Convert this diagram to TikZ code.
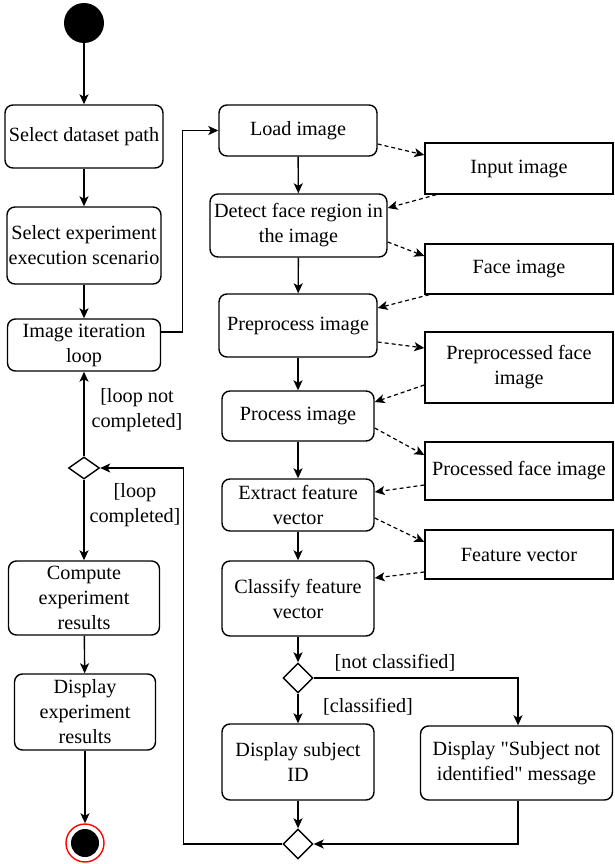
\documentclass[tikz,border=0pt]{standalone}
\usepackage{fontspec}
\setmainfont{Liberation Serif}[Ligatures=TeXOff]
\usetikzlibrary{arrows.meta,shapes.geometric,calc}
\begin{document}
\begin{tikzpicture}[x=1pt,y=-1pt,
  every node/.style={font=\fontsize{20.2}{25}\selectfont},
  act/.style={draw,line width=1.4pt,rounded corners=8pt,inner sep=0pt,align=center,fill=white},
  obj/.style={draw,line width=1.4pt,inner sep=0pt,align=center,fill=white},
  dec/.style={draw,line width=1.4pt,diamond,inner sep=0pt,minimum width=30pt,minimum height=30pt,fill=white},
  arr/.style={line width=1.4pt,-{Stealth[length=10pt,width=9pt,inset=2.5pt]}},
  darr/.style={line width=1.2pt,dash pattern=on 4pt off 3pt,-{Stealth[length=10pt,width=9pt,inset=2.5pt]}},
  lbl/.style={inner sep=0pt,align=center}]
\useasboundingbox (0,0) rectangle (614,864);
% left column
\node[circle,fill=black,minimum size=40pt,inner sep=0pt] (start) at (84,23) {};
\node[act,minimum width=158pt,minimum height=63pt] (sel1) at (84,136.5) {Select dataset path};
\node[act,minimum width=154pt,minimum height=77pt] (sel2) at (84,245.5) {Select experiment\\execution scenario};
\node[act,minimum width=153pt,minimum height=52pt] (iter) at (84,345) {Image iteration\\loop};
\node[dec,minimum width=31pt,minimum height=22pt] (dec1) at (84,468) {};
\node[act,minimum width=151pt,minimum height=74pt] (comp) at (84,598) {Compute\\experiment\\results};
\node[act,minimum width=141pt,minimum height=76pt] (disp) at (85,712) {Display\\experiment\\results};
\node[circle,draw=red,line width=1.4pt,minimum size=38pt,inner sep=0pt] (end) at (85,843) {};
\node[circle,fill=black,minimum size=28pt,inner sep=0pt] (endin) at (85,843) {};
% right column
\node[act,minimum width=158pt,minimum height=51pt] (load) at (298,130.5) {Load image};
\node[act,minimum width=177pt,minimum height=63pt] (detect) at (298.5,225.5) {Detect face region in\\the image};
\node[act,minimum width=158pt,minimum height=63pt] (prep) at (298,325.5) {Preprocess image};
\node[act,minimum width=152pt,minimum height=50pt] (proc) at (298,416) {Process image};
\node[act,minimum width=152pt,minimum height=52pt] (extr) at (298,505) {Extract feature\\vector};
\node[act,minimum width=152pt,minimum height=75pt] (clas) at (298,598.5) {Classify feature\\vector};
\node[dec] (dec2) at (298,678) {};
\node[act,minimum width=152pt,minimum height=76pt] (dsid) at (298,762) {Display subject\\ID};
\node[act,minimum width=192pt,minimum height=74pt] (dmsg) at (516.5,763) {Display "Subject not\\identified" message};
\node[dec] (dec3) at (298,844) {};
% data objects
\node[obj,minimum width=188pt,minimum height=51pt] (inimg) at (519,168.5) {Input image};
\node[obj,minimum width=188pt,minimum height=50pt] (faceimg) at (519,269) {Face image};
\node[obj,minimum width=188pt,minimum height=71pt] (ppimg) at (519,367.5) {Preprocessed face\\image};
\node[obj,minimum width=188pt,minimum height=58pt] (pimg) at (519,471) {Processed face image};
\node[obj,minimum width=188pt,minimum height=49pt] (fv) at (519,554.5) {Feature vector};
% left flow
\draw[arr] (start) -- (sel1);
\draw[arr] (sel1) -- (sel2);
\draw[arr] (sel2) -- (iter);
\draw[arr] (dec1) -- (iter);
\draw[arr] (dec1) -- (comp);
\draw[arr] (comp) -- (disp);
\draw[arr] (disp) -- (end);
\node[lbl] (lnc) at (137,410) {[loop not\\completed]};
\node[lbl] (lc) at (135,505) {[loop\\completed]};
% loop to right
\draw[arr] ([yshift=13pt]iter.east) -- ++(21,0) |- (load.west);
% right flow
\draw[arr] (load) -- (detect);
\draw[arr] (detect) -- (prep);
\draw[arr] (prep) -- (proc);
\draw[arr] (proc) -- (extr);
\draw[arr] (extr) -- (clas);
\draw[arr] (clas) -- (dec2);
\draw[arr] (dec2) -- (dsid);
\draw[arr] (dec2.east) -| ([xshift=1.5pt]dmsg.north);
\node[lbl] (lnot) at (395,663) {[not classified]};
\node[lbl] (lcl) at (368,707) {[classified]};
\draw[arr] (dsid) -- (dec3);
\draw[arr] ([xshift=1.5pt]dmsg.south) |- (dec3.east);
\draw[arr] (dec3.west) -- ++(-99,0) |- (dec1.east);
% dashed object flows
\draw[darr] ([yshift=-13.5pt]load.east) -- ([yshift=13.5pt]inimg.west);
\draw[darr] ([xshift=12pt]inimg.south west) -- ([yshift=17.5pt]detect.east);
\draw[darr] ([yshift=-16.5pt]detect.east) -- ([yshift=13pt]faceimg.west);
\draw[darr] ([xshift=5pt]faceimg.south west) -- ([yshift=17.5pt]prep.east);
\draw[darr] ([yshift=-16.5pt]prep.east) -- ([yshift=19.5pt]ppimg.west);
\draw[darr] ([yshift=-17.5pt]ppimg.west) -- ([yshift=14pt]proc.east);
\draw[darr] ([yshift=-12pt]proc.east) -- ([yshift=16pt]pimg.west);
\draw[darr] ([yshift=-14pt]pimg.west) -- ([yshift=13pt]extr.east);
\draw[darr] ([yshift=-13pt]extr.east) -- ([yshift=12.5pt]fv.west);
\draw[darr] ([yshift=-17.5pt]fv.west) -- ([yshift=20.5pt]clas.east);
\end{tikzpicture}
\end{document}
